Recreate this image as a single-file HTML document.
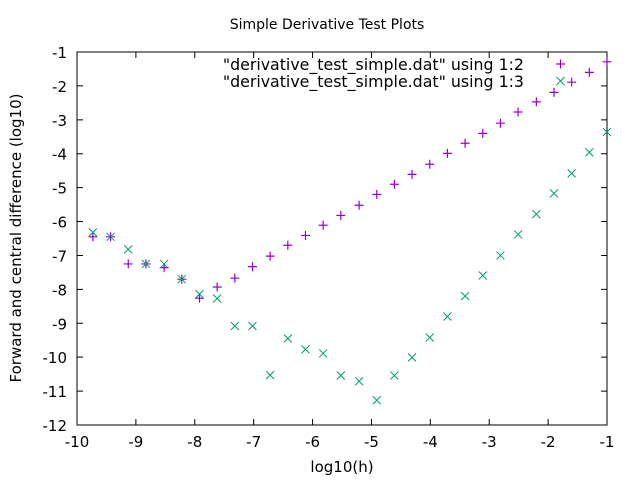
<!DOCTYPE html>
<html><head><meta charset="utf-8"><style>
html,body{margin:0;padding:0;background:#fff}
svg{display:block;font-family:"DejaVu Sans","Liberation Sans",sans-serif}
</style></head><body>
<svg id="chart" width="640" height="480" viewBox="0 0 640 480" xmlns="http://www.w3.org/2000/svg">
<rect width="640" height="480" fill="#fff"/>
<text x="327" y="29" font-size="14" text-anchor="middle">Simple Derivative Test Plots</text>
<text x="342" y="472" font-size="15" text-anchor="middle">log10(h)</text>
<text transform="translate(21,238) rotate(-90)" font-size="15" text-anchor="middle">Forward and central difference (log10)</text>
<g id="axes"></g>
<g id="marks"></g>
<g font-size="15.8">
<text x="524" y="70" text-anchor="end">"derivative_test_simple.dat" using 1:2</text>
<text x="524" y="87" text-anchor="end">"derivative_test_simple.dat" using 1:3</text>
<path d="M556 64h9M560.5 59.5v9" stroke="#9400d3" stroke-width="1.2"/>
<path d="M556.5 77l8 8M564.5 77l-8 8" stroke="#009e73" stroke-width="1"/>
</g>
</svg>
<script>
const xTicks = [-10,-9,-8,-7,-6,-5,-4,-3,-2,-1];
const yTicks = [-1,-2,-3,-4,-5,-6,-7,-8,-9,-10,-11,-12];
const seriesForward = [-6.45,-6.45,-7.25,-7.25,-7.36,-7.70,-8.26,-7.93,-7.67,-7.33,-7.02,-6.70,-6.41,-6.11,-5.82,-5.52,-5.20,-4.90,-4.61,-4.31,-3.99,-3.69,-3.40,-3.10,-2.77,-2.47,-2.19,-1.89,-1.60,-1.29];
const seriesCentral = [-6.32,-6.45,-6.82,-7.25,-7.25,-7.70,-8.14,-8.27,-9.08,-9.08,-10.53,-9.45,-9.77,-9.89,-10.54,-10.71,-11.27,-10.54,-10.01,-9.42,-8.80,-8.20,-7.59,-7.00,-6.38,-5.78,-5.17,-4.58,-3.96,-3.36];
const logH = [-9.73,-9.43,-9.13,-8.83,-8.52,-8.22,-7.92,-7.62,-7.32,-7.02,-6.72,-6.42,-6.12,-5.82,-5.52,-5.21,-4.91,-4.61,-4.31,-4.01,-3.71,-3.41,-3.11,-2.81,-2.51,-2.20,-1.90,-1.60,-1.30,-1.00];

const L=77,R=607,T=52,B=425,xmin=-10,xmax=-1,ymin=-12,ymax=-1;
const sx=v=>L+(v-xmin)/(xmax-xmin)*(R-L);
const sy=v=>B-(v-ymin)/(ymax-ymin)*(B-T);
const NS='http://www.w3.org/2000/svg';
function mk(tag,attrs,parent){const e=document.createElementNS(NS,tag);for(const k in attrs)e.setAttribute(k,attrs[k]);parent.appendChild(e);return e;}
const axes=document.getElementById('axes'), marks=document.getElementById('marks');
const frame=mk('rect',{x:L,y:T,width:R-L,height:B-T,fill:'none',stroke:'#000','stroke-width':1},axes);


xTicks.forEach(v=>{
  const x=sx(v);
  const t=mk('path',{d:`M${x} ${B}v-6M${x} ${T}v6`,stroke:'#000','stroke-width':1},axes);
  
  
  const l=mk('text',{x:x,y:B+22,'font-size':15,'text-anchor':'middle'},axes);
  l.textContent=String(v);
  
  
});
yTicks.forEach(v=>{
  const y=sy(v);
  const t=mk('path',{d:`M${L} ${y}h6M${R} ${y}h-6`,stroke:'#000','stroke-width':1},axes);
  
  
  const l=mk('text',{x:L-10,y:y+6,'font-size':15,'text-anchor':'end'},axes);
  l.textContent=String(v);
  
  
});
logH.forEach((h,i)=>{
  const x=sx(h), y1=sy(seriesForward[i]), y2=sy(seriesCentral[i]);
  const p=mk('path',{d:`M${x-4.5} ${y1}h9M${x} ${y1-4.5}v9`,stroke:'#9400d3','stroke-width':1.2},marks);
  
  
  const q=mk('path',{d:`M${x-4} ${y2-4}l8 8M${x+4} ${y2-4}l-8 8`,stroke:'#009e73','stroke-width':1},marks);
  
  
});
</script>
</body></html>
